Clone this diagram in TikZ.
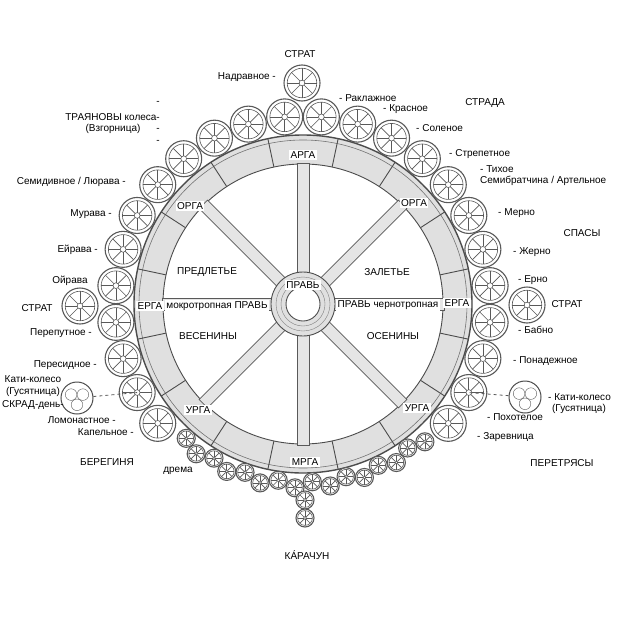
\documentclass[tikz,border=0pt]{standalone}
\usepackage{fontspec}
\setmainfont{Liberation Sans}
\begin{document}
\newcommand\mywheel[3]{%
 \begin{scope}[shift={(#1,#2)}]
 \fill[white] (0,0) circle (#3);
 \draw[wc, line width=1.1] (0,0) circle (#3);
 \draw[wc, line width=0.6] (0,0) circle ({0.82*#3});
 \foreach \s in {0,45,...,315} \draw[wc, line width=0.7] (\s:{0.16*#3}) -- (\s:{0.82*#3});
 \draw[wc, line width=0.6] (0,0) circle ({0.16*#3});
 \end{scope}}
\begin{tikzpicture}[x=1pt,y=-1pt,
  lbl/.style={font=\fontsize{10}{11.5}\selectfont, inner sep=1pt},
  box/.style={lbl, fill=white, inner sep=1.5pt},
  wc/.style={draw=black!65},
  rimc/.style={draw=black!70, line width=0.9}]
\useasboundingbox (0,0) rectangle (624,626);
\fill[white] (0,0) rectangle (624,626);
\coordinate (c) at (303,304);
% rim
\fill[black!12, even odd rule] (c) circle (169) (c) circle (140);
\draw[rimc, line width=1.4] (c) circle (169);
\draw[black!55, line width=0.6] (c) circle (164);
\draw[rimc] (c) circle (140);
\foreach \a in {0,45,...,315}{
  \draw[rimc] ({303+140*cos(\a+12)},{304-140*sin(\a+12)}) -- ({303+169*cos(\a+12)},{304-169*sin(\a+12)});
  \draw[rimc] ({303+140*cos(\a-12)},{304-140*sin(\a-12)}) -- ({303+169*cos(\a-12)},{304-169*sin(\a-12)});
}
% spokes
\foreach \a in {0,45,90,135,180,225,270,315}{
  \begin{scope}[shift={(303,304)}, rotate=-\a]
  \filldraw[fill=black!10, draw=black!65, line width=0.7] (30,-6) rectangle (141,6);
  \end{scope}}
% hub
\filldraw[fill=black!12, draw=black!70, line width=0.9] (c) circle (32);
\draw[black!50] (c) circle (27) (c) circle (22);
\filldraw[fill=white, draw=black!70, line width=0.9] (c) circle (17);
% horizontal spokes with labels
\node[box] (mokro) at (217,306) {мокротропная ПРАВЬ};
\node[box] (cherno) at (388,305) {ПРАВЬ чернотропная};
% rim labels
\node[box] (arga) at (303,155) {АРГА};
\node[box] (orgaL) at (190,206) {ОРГА};
\node[box] (orgaR) at (414,203) {ОРГА};
\node[box] (ergaL) at (150,306) {ЕРГА};
\node[box] (ergaR) at (457,303) {ЕРГА};
\node[box] (urgaL) at (198,410) {УРГА};
\node[box] (urgaR) at (417,408) {УРГА};
\node[box] (mrga) at (305,462) {МРГА};
\node[box] (prav) at (303,285) {ПРАВЬ};
% sectors
\node[lbl] (predl) at (207,272) {ПРЕДЛЕТЬЕ};
\node[lbl] (zal) at (387,272) {ЗАЛЕТЬЕ};
\node[lbl] (ves) at (208,336) {ВЕСЕНИНЫ};
\node[lbl] (osen) at (393,336) {ОСЕНИНЫ};
% big outer wheels
\foreach \a in {95.6,106.9,118.1,129.4,140.6,151.9,163.1,174.4,185.6,196.9,208.1,219.4,
  84.4,73.1,61.9,50.6,39.4,28.1,16.9,5.6,-5.6,-16.9,-28.1,-39.4}{
  \mywheel{{303+188*cos(\a)}}{{304-188*sin(\a)}}{18}}
\mywheel{302}{83}{18}
\mywheel{80}{306}{18}
\mywheel{527}{305}{18}
\coordinate (lomo) at ({303+188*cos(208.1)},{304-188*sin(208.1)});
\coordinate (pokh) at ({303+188*cos(-28.1)},{304-188*sin(-28.1)});
% small bottom wheels
\foreach \a [count=\i] in {-131,-125.5,-120,-114.5,-109,-103.5,-98,-92.5,-87,-81.5,-76,-70.5,-65,-59.5,-54,-48.5}{
  \pgfmathsetmacro{\rr}{isodd(\i) ? 178 : 184}
  \mywheel{{303+\rr*cos(\a)}}{{304-\rr*sin(\a)}}{9}}
\mywheel{305}{500}{9}
\mywheel{305}{518}{9}
% kati wheels
\node[circle, draw=black!70, line width=1, minimum size=32pt, inner sep=0pt] (katiL) at (77,398) {};
\node[circle, draw=black!70, line width=1, minimum size=32pt, inner sep=0pt] (katiR) at (525,397) {};
\foreach \k in {katiL,katiR}{
  \foreach \b in {90,210,330}
    \draw[black!65] ([shift={(\b:6.8)}]\k.center) circle (5.8);}
\draw[black!65, dashed, line width=0.8] (katiL) -- (lomo);
\draw[black!65, dashed, line width=0.8] (katiR) -- (pokh);
% outer labels
\node[lbl] (stratT) at (300,54) {СТРАТ};
\node[lbl, anchor=east] (nadr) at (277,77) {Надравное -};
\node[lbl, anchor=west] (rakl) at (338,98) {- Раклажное};
\node[lbl, anchor=west] (kras) at (382,109) {- Красное};
\node[lbl, anchor=west] (solen) at (415,128) {- Соленое};
\node[lbl] (strada) at (485,103) {СТРАДА};
\node[lbl, anchor=west] (strep) at (448,154) {- Стрепетное};
\node[lbl, anchor=west] (tikh) at (479,169) {- Тихое};
\node[lbl, anchor=west] (semib) at (479,181) {Семибратчина / Артельное};
\node[lbl, anchor=west] (merno) at (497,213) {- Мерно};
\node[lbl] (spasy) at (582,233) {СПАСЫ};
\node[lbl, anchor=west] (zherno) at (512,252) {- Жерно};
\node[lbl, anchor=west] (erno) at (517,280) {- Ерно};
\node[lbl] (stratR) at (567,304) {СТРАТ};
\node[lbl, anchor=west] (babno) at (517,330) {- Бабно};
\node[lbl, anchor=west] (ponad) at (512,361) {- Понадежное};
\node[lbl, anchor=west] (katiRt) at (547,397) {- Кати-колесо};
\node[lbl] (gusR) at (579,409) {(Гусятница)};
\node[lbl, anchor=west] (pokht) at (486,417) {- Похотелое};
\node[lbl, anchor=west] (zarev) at (476,437) {- Заревница};
\node[lbl] (peret) at (562,463) {ПЕРЕТРЯСЫ};
\node[lbl, anchor=east] (d1) at (161,103) {-};
\node[lbl, anchor=east] (troj) at (161,117) {ТРАЯНОВЫ колеса-};
\node[lbl] (vzg) at (113,129) {(Взгорница)};
\node[lbl, anchor=east] (d2) at (161,130) {-};
\node[lbl, anchor=east] (d3) at (161,142) {-};
\node[lbl, anchor=east] (semid) at (127,182) {Семидивное / Люрава -};
\node[lbl, anchor=east] (murava) at (113,214) {Мурава -};
\node[lbl, anchor=east] (eirava) at (99,250) {Ейрава -};
\node[lbl] (oirava) at (70,281) {Ойрава};
\node[lbl] (stratL) at (37,308) {СТРАТ};
\node[lbl, anchor=east] (perep) at (93,333) {Перепутное -};
\node[lbl, anchor=east] (peres) at (98,365) {Пересидное -};
\node[lbl] (katiLt) at (33,379) {Кати-колесо};
\node[lbl] (gusL) at (33,392) {(Гусятница)};
\node[lbl, anchor=east] (skrad) at (65,405) {СКРАД-день-};
\node[lbl, anchor=east] (lomot) at (117,420) {Ломонастное -};
\node[lbl, anchor=east] (kapel) at (135,432) {Капельное -};
\node[lbl] (bereg) at (107,462) {БЕРЕГИНЯ};
\node[lbl] (drema) at (178,471) {дрема};
\node[lbl] (karach) at (307,555) {КА́РАЧУН};
\end{tikzpicture}
\end{document}
